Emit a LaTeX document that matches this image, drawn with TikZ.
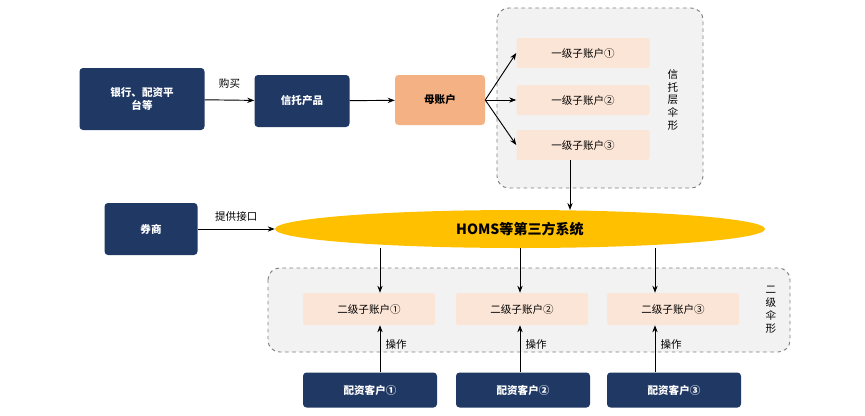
\documentclass[tikz,border=0pt]{standalone}
\usepackage{fontspec}
\setmainfont{Liberation Sans}
\newfontfamily\cjk{Noto Sans CJK SC}
\usetikzlibrary{shapes.geometric,arrows.meta}
\definecolor{navy}{HTML}{1F3864}
\definecolor{peach}{HTML}{FBE5D6}
\definecolor{orng}{HTML}{F4B183}
\definecolor{gold}{HTML}{FFC000}
\definecolor{lgray}{HTML}{F2F2F2}
\begin{document}
\begin{tikzpicture}[x=0.03cm,y=-0.03cm,
 dark/.style={draw=none,fill=navy,rounded corners=3pt,text=white,font=\cjk\bfseries\small,align=center,inner sep=0pt},
 sub/.style={draw=none,fill=peach,rounded corners=2pt,text=black,font=\cjk\small,inner sep=0pt},
 grp/.style={draw=gray,dashed,thick,fill=lgray,rounded corners=10pt},
 arr/.style={-{Stealth[length=6pt]},thick},
 lab/.style={font=\cjk\small}]
\useasboundingbox (0,0) rectangle (865,415);
\draw[grp] (497,8) rectangle (703,188);
\draw[grp] (268,268) rectangle (790,352);
\node[dark,minimum width=125*0.03cm,minimum height=62*0.03cm] (bank) at (142,99) {银行、配资平\\台等};
\node[dark,minimum width=95*0.03cm,minimum height=52*0.03cm] (trust) at (302,101) {信托产品};
\node[dark,fill=orng,text=black,minimum width=90*0.03cm,minimum height=50*0.03cm] (mom) at (440,100) {母账户};
\node[sub,minimum width=133*0.03cm,minimum height=30*0.03cm] (a1) at (583,53) {一级子账户①};
\node[sub,minimum width=133*0.03cm,minimum height=30*0.03cm] (a2) at (583,100) {一级子账户②};
\node[sub,minimum width=133*0.03cm,minimum height=30*0.03cm] (a3) at (583,145) {一级子账户③};
\node[lab,align=center] (l1) at (673,100) {信\\托\\层\\伞\\形};
\node[ellipse,fill=gold,minimum width=490*0.03cm,minimum height=38*0.03cm,inner sep=0pt,font=\cjk\bfseries\large] (homs) at (520,229) {HOMS等第三方系统};
\node[dark,minimum width=93*0.03cm,minimum height=52*0.03cm] (broker) at (151,229) {券商};
\foreach \i/\x in {1/369,2/522,3/673}{
 \node[sub,minimum width=132*0.03cm,minimum height=32*0.03cm] (b\i) at (\x,309) {二级子账户\ifcase\i\or①\or②\or③\fi};
 \node[dark,minimum width=134*0.03cm,minimum height=35*0.03cm] (c\i) at (\x+1,390) {配资客户\ifcase\i\or①\or②\or③\fi};
}
\node[lab,align=center] (l2) at (771,310) {二\\级\\伞\\形};
\draw[arr] (bank) -- node[lab,above=6pt] {购买} (trust);
\draw[arr] (trust) -- (mom);
\draw[arr] (mom.east) -- (a1.west);
\draw[arr] (mom) -- (a2);
\draw[arr] (mom.east) -- (a3.west);
\draw[arr] (a3.south -| 570,0) -- (570,210);
\draw[arr] (broker.east) -- node[lab,above=3pt] {提供接口} (broker.east -| homs.west);
\draw[arr] (380,248) -- (b1.north -| 380,0);
\draw[arr] (520,248) -- (b2.north -| 520,0);
\draw[arr] (655,248) -- (b3.north -| 655,0);
\foreach \i/\x in {1/380,2/520,3/655}{
 \draw[arr] (c\i.north -| \x,0) -- node[lab,right=1pt,pos=0.6] {操作} (b\i.south -| \x,0);
}
\end{tikzpicture}
\end{document}
